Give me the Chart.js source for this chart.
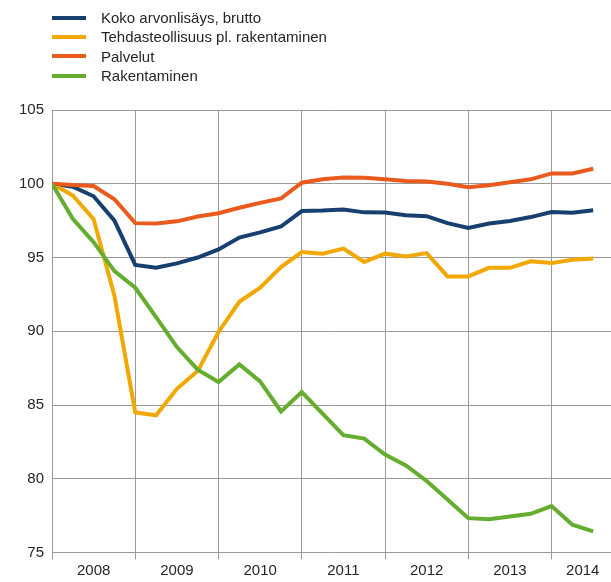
<!DOCTYPE html>
<html>
<head>
<meta charset="utf-8">
<script src="https://cdn.jsdelivr.net/npm/chart.js@4/dist/chart.umd.min.js"></script>
<style>
  html, body { margin: 0; padding: 0; background: #fff; overflow: hidden; }
  #wrap { position: relative; width: 614px; height: 582px; }
  #legend { position: absolute; left: 52px; top: 8px; font: 15px "Liberation Sans", Arial, sans-serif; color: #262626; }
  .legend-row { display: flex; align-items: center; height: 19.3px; }
  .legend-swatch { width: 34px; height: 4px; margin-right: 15px; }
</style>
</head>
<body>
<div id="wrap">
  <canvas id="chart" width="614" height="582"></canvas>
  <div id="legend"></div>
</div>
<script>
// quarterly index, 2008Q1 = 100
const years = ['2008', '2009', '2010', '2011', '2012', '2013', '2014'];
const quarterCount = 27;

const kokoValues = [100, 99.8, 99.15, 97.5, 94.5, 94.3, 94.6, 95.0, 95.55, 96.35, 96.7, 97.1, 98.15, 98.18, 98.26, 98.06, 98.05, 97.87, 97.8, 97.33, 97.0, 97.3, 97.47, 97.74, 98.08, 98.04, 98.2];
const tehdasValues = [100, 99.2, 97.6, 92.4, 84.5, 84.3, 86.1, 87.3, 89.95, 92.0, 92.95, 94.35, 95.37, 95.26, 95.6, 94.7, 95.26, 95.07, 95.3, 93.72, 93.72, 94.3, 94.3, 94.74, 94.62, 94.85, 94.94];
const palvelutValues = [100, 99.92, 99.85, 98.95, 97.33, 97.3, 97.45, 97.78, 98.0, 98.37, 98.7, 99.0, 100.07, 100.3, 100.42, 100.4, 100.3, 100.19, 100.15, 100.0, 99.77, 99.9, 100.1, 100.3, 100.7, 100.7, 101.02];
const rakentaminenValues = [100, 97.63, 96.04, 94.08, 92.95, 90.96, 88.93, 87.4, 86.56, 87.75, 86.6, 84.57, 85.88, 84.42, 82.95, 82.72, 81.64, 80.9, 79.85, 78.6, 77.33, 77.26, 77.44, 77.62, 78.15, 76.88, 76.43];

const seriesNames = ['Koko arvonlisäys, brutto', 'Tehdasteollisuus pl. rakentaminen', 'Palvelut', 'Rakentaminen'];
const seriesColors = ['#173f70', '#f1a800', '#ea5a1d', '#64ad2e'];
const seriesValues = [kokoValues, tehdasValues, palvelutValues, rakentaminenValues];

const yTicks = [75, 80, 85, 90, 95, 100, 105];

const fontFamily = '"Liberation Sans", Arial, sans-serif';
const gridColor = '#9a9a9a';

// ticks on year boundaries carry the grid, ticks in between carry the year label
const xTicks = [];
years.forEach((year, i) => {
  xTicks.push({ value: i * 4, label: '' });
  const end = Math.min((i + 1) * 4, quarterCount);
  xTicks.push({ value: (i * 4 + end) / 2, label: year });
});

const datasets = seriesValues.map((values, s) => ({
  label: seriesNames[s],
  data: values.map((v, i) => ({ x: i, y: v })),
  borderColor: seriesColors[s],
  backgroundColor: seriesColors[s],
  borderWidth: 4,
  pointRadius: 0,
  tension: 0,
  order: seriesValues.length - s,
}));

const legend = document.getElementById('legend');
legend.innerHTML = seriesNames.map((name, s) => `
  <div class="legend-row">
    <div class="legend-swatch" style="background:${seriesColors[s]}"></div>
    <div>${name}</div>
  </div>
`).join('');

new Chart(document.getElementById('chart'), {
  type: 'line',
  data: { datasets },
  options: {
    responsive: false,
    animation: false,
    layout: { padding: { top: 110, right: 0, bottom: 0.5, left: 0 } },
    plugins: { legend: { display: false }, tooltip: { enabled: false } },
    scales: {
      x: {
        type: 'linear',
        min: 0,
        max: quarterCount,
        afterBuildTicks: (scale) => { scale.ticks = xTicks.map((t) => ({ value: t.value })); },
        ticks: {
          autoSkip: false,
          maxRotation: 0,
          padding: 2,
          color: '#262626',
          font: { family: fontFamily, size: 15 },
          callback: (value) => {
            const t = xTicks.find((item) => item.value === value);
            return t ? t.label : '';
          },
        },
        grid: {
          color: (ctx) => (ctx.tick && ctx.tick.value % 4 === 0 ? gridColor : 'rgba(0,0,0,0)'),
          tickLength: 7,
          lineWidth: 1,
        },
        border: { display: false },
      },
      y: {
        min: 75,
        max: 105,
        afterBuildTicks: (scale) => { scale.ticks = yTicks.map((v) => ({ value: v })); },
        afterFit: (scale) => { scale.width = 52; },
        ticks: {
          padding: 8,
          color: '#262626',
          font: { family: fontFamily, size: 15 },
        },
        grid: { color: gridColor, drawTicks: false, lineWidth: 1 },
        border: { display: true, color: gridColor },
      },
    },
  },
});
</script>
</body>
</html>
